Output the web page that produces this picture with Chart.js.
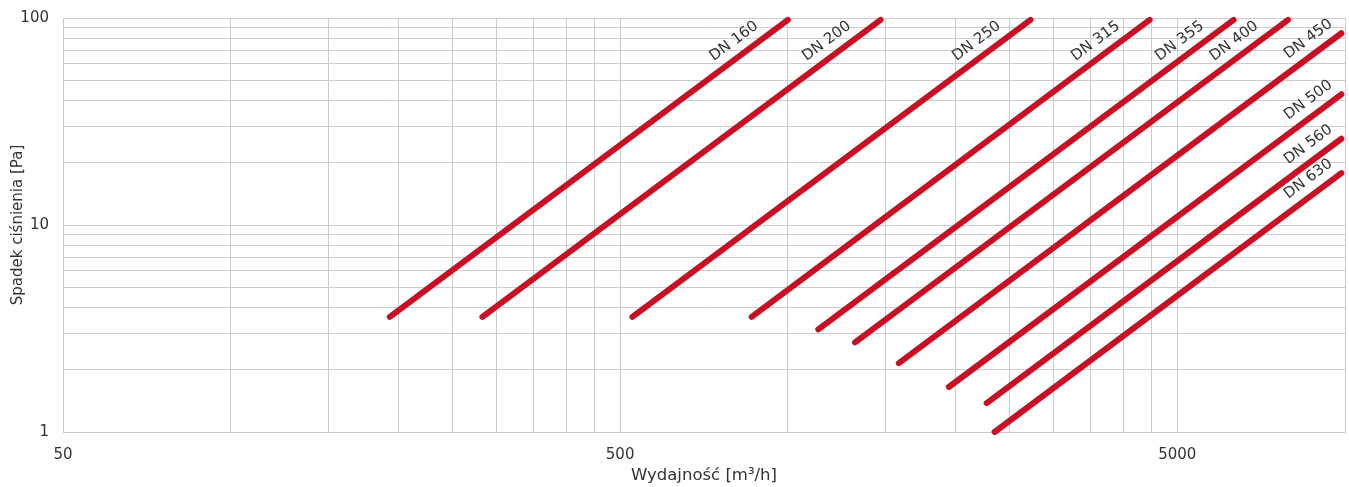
<!DOCTYPE html>
<html>
<head>
<meta charset="utf-8">
<script src="https://cdn.jsdelivr.net/npm/chart.js@4/dist/chart.umd.min.js"></script>
<style>
  body { margin: 0; background: #fff; }
  .wrap { width: 1349px; height: 487px; position: relative; }
</style>
</head>
<body>
<div class="wrap"><canvas id="myChart"></canvas></div>
<script>
// pipe sizes
const sizes = ['DN 160', 'DN 200', 'DN 250', 'DN 315', 'DN 355', 'DN 400', 'DN 450', 'DN 500', 'DN 560', 'DN 630'];

// flow [m3/h] and pressure drop [Pa] at both ends of each line
const flowStart = [193, 283, 526, 861, 1134, 1320, 1582, 1945, 2274, 2350];
const dropStart = [3.6, 3.6, 3.6, 3.6, 3.13, 2.71, 2.15, 1.65, 1.38, 1.0];
const flowEnd = [1000, 1467, 2726, 4460, 6310, 7900, 9850, 9850, 9850, 9850];
const dropEnd = [98, 98, 98, 98, 98, 98, 84.4, 42.8, 26.1, 17.8];

// grid lines and the ones that get a label
const xGrid = [50, 100, 150, 200, 250, 300, 350, 400, 450, 500,
  1000, 1500, 2000, 2500, 3000, 3500, 4000, 4500, 5000, 10000];
const xLabels = [50, 500, 5000];
const yGrid = [1, 2, 3, 4, 5, 6, 7, 8, 9, 10, 20, 30, 40, 50, 60, 70, 80, 90, 100];
const yLabels = [1, 10, 100];

const red = 'rgb(200,16,36)';
const gridColor = '#cccccc';
const textColor = '#333333';
const fontFamily = '"DejaVu Sans", Verdana, sans-serif';

const datasets = sizes.map((name, i) => ({
  label: name,
  data: [
    { x: flowStart[i], y: dropStart[i] },
    { x: flowEnd[i], y: dropEnd[i] }
  ],
  borderColor: red,
  borderWidth: 6,
  borderCapStyle: 'round',
  pointRadius: 0,
  clip: false
}));

// writes "DN xxx" along each line near its top end
const lineLabels = {
  id: 'lineLabels',
  afterDatasetsDraw(chart) {
    const ctx = chart.ctx;
    ctx.save();
    ctx.font = '15px ' + fontFamily;
    ctx.fillStyle = textColor;
    ctx.textAlign = 'center';
    ctx.textBaseline = 'middle';
    chart.data.datasets.forEach((ds, i) => {
      const pts = chart.getDatasetMeta(i).data;
      const p0 = pts[0], p1 = pts[1];
      const ang = Math.atan2(p1.y - p0.y, p1.x - p0.x);
      const ux = Math.cos(ang), uy = Math.sin(ang);
      const back = dropEnd[i] > 95 ? 56 : 30;
      const off = 15;
      const cx = p1.x - ux * back + uy * off;
      const cy = p1.y - uy * back - ux * off;
      ctx.save();
      ctx.translate(cx, cy);
      ctx.rotate(ang);
      ctx.fillText(ds.label, 0, 0);
      ctx.restore();
    });
    ctx.restore();
  }
};

const ctx = document.getElementById('myChart').getContext('2d');
const myChart = new Chart(ctx, {
  type: 'line',
  data: { datasets: datasets },
  options: {
    responsive: true,
    maintainAspectRatio: false,
    animation: false,
    layout: { padding: { top: 18, right: 4, left: 0, bottom: 0 } },
    plugins: {
      legend: { display: false },
      tooltip: { enabled: false }
    },
    scales: {
      x: {
        type: 'logarithmic',
        min: 50,
        max: 10000,
        afterBuildTicks: (scale) => { scale.ticks = xGrid.map(v => ({ value: v })); },
        afterFit: (scale) => {
          scale.height = 55;
          scale.paddingLeft = 0;
          scale.paddingRight = 0;
        },
        grid: { color: gridColor, drawTicks: false },
        border: { color: gridColor },
        ticks: {
          autoSkip: false,
          maxRotation: 0,
          padding: 14,
          color: textColor,
          font: { family: fontFamily, size: 15 },
          callback: (v) => xLabels.includes(v) ? String(v) : ''
        },
        title: {
          display: true,
          text: 'Wydajność [m³/h]',
          color: textColor,
          font: { family: fontFamily, size: 16.5 },
          padding: { top: 0, bottom: 1 }
        }
      },
      y: {
        type: 'logarithmic',
        min: 1,
        max: 100,
        afterBuildTicks: (scale) => { scale.ticks = yGrid.map(v => ({ value: v })); },
        afterFit: (scale) => {
          scale.width = 63;
          scale.paddingTop = 0;
          scale.paddingBottom = 0;
        },
        grid: { color: gridColor, drawTicks: false },
        border: { color: gridColor },
        ticks: {
          autoSkip: false,
          padding: 14,
          color: textColor,
          font: { family: fontFamily, size: 15 },
          callback: (v) => yLabels.includes(v) ? String(v) : ''
        },
        title: {
          display: true,
          text: 'Spadek ciśnienia [Pa]',
          color: textColor,
          font: { family: fontFamily, size: 15 },
          padding: { top: 9, bottom: 0 }
        }
      }
    }
  },
  plugins: [lineLabels]
});
</script>
</body>
</html>
